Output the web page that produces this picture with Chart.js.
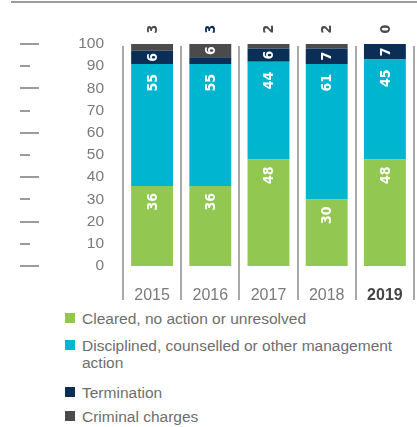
<!DOCTYPE html>
<html>
<head>
<meta charset="utf-8">
<script src="https://cdn.jsdelivr.net/npm/chart.js@4.4.1/dist/chart.umd.min.js"></script>
<style>
  html, body { margin: 0; padding: 0; background: #fff; }
  #wrap { position: relative; width: 417px; height: 427px; overflow: hidden; }
  #chart { position: absolute; left: 0; top: 0; }
  .item { position: absolute; left: 65px; width: 340px; display: flex; align-items: flex-start;
          font: 15.5px 'Liberation Sans', Arial, sans-serif; line-height: 17px; color: #6e6e6e; }
  .sw { flex: 0 0 10px; width: 10px; height: 10px; margin: 3px 7px 0 0; }
</style>
</head>
<body>
<div id="wrap">
  <canvas id="chart" width="417" height="305"></canvas>
  <div id="legend"></div>
</div>
<script>
// Outcomes by year, % of cases
const years = ['2015', '2016', '2017', '2018', '2019'];
const cleared = [36, 36, 48, 30, 48];
const disciplined = [55, 55, 44, 61, 45];
const termination = [6, 3, 6, 7, 7];
const criminal = [3, 6, 2, 2, 0];
const yTicks = [0, 10, 20, 30, 40, 50, 60, 70, 80, 90, 100];

const seriesNames = [
  'Cleared, no action or unresolved',
  'Disciplined, counselled or other management action',
  'Termination',
  'Criminal charges',
];
const seriesColors = ['#92c751', '#00b5d0', '#0b2e57', '#4b4b4b'];
const seriesData = [cleared, disciplined, termination, criminal];

const LABEL_FONT = "bold 14px 'Liberation Sans Narrow', 'DejaVu Sans Condensed', Arial, sans-serif";
const GREY = '#9b9b9b';

// rules, separators and rotated value labels
const decorations = {
  id: 'decorations',
  afterDraw(chart) {
    const { ctx, chartArea, scales } = chart;
    const x = scales.x, y = scales.y;
    ctx.save();

    // top rule
    ctx.fillStyle = GREY;
    ctx.fillRect(11, 1, 406, 2);

    // tick dashes on the far left
    yTicks.forEach(v => {
      const py = Math.round(y.getPixelForValue(v));
      ctx.fillRect(20, py - 1, v % 20 === 0 ? 19 : 10, 2);
    });

    // separators between the years
    const step = (chartArea.right - chartArea.left) / years.length;
    ctx.fillStyle = '#a9a9a9';
    for (let i = 0; i <= years.length; i++) {
      const px = Math.round(x.getPixelForValue(0) - step / 2 + i * step);
      ctx.fillRect(px - 1, chartArea.top + 2, 2, chartArea.bottom + 34 - chartArea.top - 2);
    }

    // value labels
    ctx.font = LABEL_FONT;
    ctx.textBaseline = 'middle';
    chart.data.datasets.forEach((ds, di) => {
      const meta = chart.getDatasetMeta(di);
      meta.data.forEach((bar, i) => {
        const v = ds.data[i];
        const { x: bx, y: top, base } = bar.getProps(['x', 'y', 'base'], true);
        let py, align, color = '#fff';
        if (v < 4) {
          py = 29; align = 'center'; color = ds.backgroundColor;
        } else if (v < 20) {
          py = (top + base) / 2; align = 'center';
        } else {
          py = top + (di === 1 ? 10 : 7); align = 'right';
        }
        ctx.save();
        ctx.translate(bx, py);
        ctx.rotate(-Math.PI / 2);
        ctx.textAlign = align;
        ctx.fillStyle = color;
        ctx.fillText(String(v), 0, 1);
        ctx.restore();
      });
    });
    ctx.restore();
  }
};

new Chart(document.getElementById('chart'), {
  type: 'bar',
  data: {
    labels: years,
    datasets: seriesData.map((d, i) => ({
      label: seriesNames[i],
      data: d,
      backgroundColor: seriesColors[i],
      borderWidth: 0,
      categoryPercentage: 1,
      barPercentage: 0.72,
    })),
  },
  options: {
    responsive: false,
    animation: false,
    layout: { padding: { top: 44, right: 3, left: 0, bottom: 0 } },
    plugins: { legend: { display: false }, tooltip: { enabled: false } },
    scales: {
      x: {
        stacked: true,
        grid: { display: false },
        border: { display: false },
        afterFit: (s) => { s.height = 39; },
        ticks: {
          padding: 12,
          color: (c) => (c.index === 4 ? '#454545' : '#7a7a7a'),
          font: (c) => ({ family: "'Liberation Sans', Arial, sans-serif", size: 16, weight: c.index === 4 ? 'bold' : 'normal' }),
        },
      },
      y: {
        stacked: true,
        min: 0,
        max: 100,
        grid: { display: false, drawTicks: false },
        border: { display: false },
        afterFit: (s) => { s.width = 123; },
        afterBuildTicks: (s) => { s.ticks = yTicks.map(v => ({ value: v })); },
        ticks: {
          padding: 19,
          color: '#7a7a7a',
          font: { family: "'Liberation Sans', Arial, sans-serif", size: 15.5 },
        },
      },
    },
  },
  plugins: [decorations],
});

// legend below the chart
const rowTops = [310, 337, 384, 408];
const legend = document.getElementById('legend');
seriesNames.forEach((name, i) => {
  const row = document.createElement('div');
  row.className = 'item';
  row.style.top = rowTops[i] + 'px';
  row.innerHTML = '<span class="sw" style="background:' + seriesColors[i] + '"></span><span>' + name + '</span>';
  legend.appendChild(row);
});
</script>
</body>
</html>
